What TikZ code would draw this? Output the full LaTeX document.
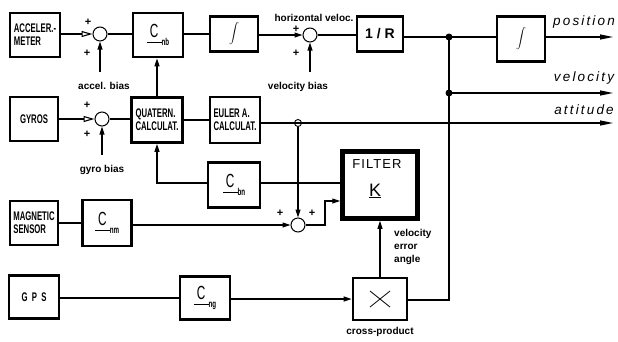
\documentclass[tikz,border=0pt]{standalone}
\usepackage{fontspec}
\setmainfont{Liberation Sans}
\newfontfamily\bxf[FakeStretch=0.62]{Liberation Sans}
\newfontfamily\itf[LetterSpace=16]{Liberation Sans}
\newfontfamily\flf[LetterSpace=8]{Liberation Sans}
\usetikzlibrary{arrows.meta}
\newcommand\cmx[1]{{\bxf\mdseries\fontsize{19}{19}\selectfont\underline{\,C\vphantom{y}\,}}\raisebox{-1.3ex}{\bxf\bfseries\fontsize{10}{10}\selectfont #1}}
\newcommand\intg{{\fontsize{8.5}{8.5}\selectfont$\displaystyle\int$}}
\begin{document}
\begin{tikzpicture}[x=1pt,y=-1pt,
  box/.style={draw,line width=2.8pt,inner sep=0pt,font=\bxf\bfseries\fontsize{12.5}{13}\selectfont,align=left},
  sj/.style={draw,circle,line width=1pt,minimum size=14pt,inner sep=0pt,fill=white},
  ln/.style={line width=1.1pt},
  ar/.style={ln,-{Triangle[length=8pt,width=5pt]}},
  oa/.style={ln,-{Triangle[open,length=11pt,width=6pt]}},
  outar/.style={ln,-{Triangle[length=13pt,width=5pt]}},
  lbl/.style={font=\bfseries\fontsize{10}{10}\selectfont,inner sep=0pt},
  pl/.style={font=\bfseries\fontsize{11}{11}\selectfont,inner sep=0pt},
  oit/.style={font=\itf\itshape\fontsize{13.5}{13.5}\selectfont,inner sep=0pt}]
\useasboundingbox[fill=white] (0,0) rectangle (618,341);
% row 1
\node[box,minimum width=50pt,minimum height=44pt] (acc) at (35,35) {ACCELER.-\\METER};
\node[sj] (s1) at (100,34) {};
\node[box,minimum width=50pt,minimum height=44pt] (cnb) at (158,35) {\cmx{nb}};
\node[box,minimum width=48pt,minimum height=35pt] (int1) at (234,34) {\intg};
\node[sj] (s2) at (310,35) {};
\node[box,minimum width=46pt,minimum height=35pt,font=\bfseries\fontsize{14}{14}\selectfont] (oner) at (380,34) {1 / R};
\coordinate (d1) at (449,37);
\node[box,minimum width=48pt,minimum height=45pt] (int2) at (521,39) {\intg};
\coordinate (po) at (613,37);
% row 2
\node[box,minimum width=48pt,minimum height=44pt] (gyr) at (34,119) {GYROS};
\node[sj] (s3) at (102,119) {};
\node[box,minimum width=51pt,minimum height=45pt] (quat) at (157,120) {QUATERN.\\CALCULAT.};
\node[box,minimum width=50pt,minimum height=46pt] (eul) at (235,120) {EULER A.\\CALCULAT.};
\coordinate (jc) at (298,123);
\coordinate (d2) at (449,93);
\coordinate (ve) at (613,93);
\coordinate (at) at (613,123);
% row 3
\node[box,minimum width=52pt,minimum height=45pt] (cbn) at (234,185) {\cmx{bn}};
\node[box,line width=4.5pt,minimum width=75pt,minimum height=67pt] (filt) at (380,185) {};
\node[inner sep=0pt,font=\flf\fontsize{13}{13}\selectfont] (ft) at (377,164) {FILTER};
\node[inner sep=0pt,font=\fontsize{18}{18}\selectfont] (fk) at (375,191) {\underline{K}};
\node[box,minimum width=48pt,minimum height=44pt] (mag) at (34,223) {MAGNETIC\\SENSOR};
\node[box,minimum width=49pt,minimum height=46pt] (cnm) at (107,223) {\cmx{nm}};
\node[sj] (s4) at (298,225) {};
\coordinate (k2) at (325,201);
% row 4
\node[box,minimum width=50pt,minimum height=43pt] (gps) at (34,297) {G\ \ P\ \ S};
\node[box,minimum width=50pt,minimum height=43pt] (cng) at (205,298) {\cmx{ng}};
\node[box,minimum width=54pt,minimum height=42pt] (crs) at (380,299) {};
\draw[line width=0.8pt] (crs.center) ++(-10,-8) -- ++(20,16);
\draw[line width=0.8pt] (crs.center) ++(-10,8) -- ++(20,-16);
\coordinate (d3) at (449,300);
% bias inputs
\coordinate (bacc) at (100,72);
\coordinate (bvel) at (310,72);
\coordinate (bgyr) at (102,155);
% connections row 1
\draw[oa] (acc.east |- s1) -- (s1.west);
\draw[ln] (s1.east) -- (cnb.west |- s1);
\draw[ln] (cnb.east |- int1) -- (int1.west);
\draw[ar] (int1.east |- s2) -- (s2.west);
\draw[ln] (s2.east) -- (oner.west |- s2);
\draw[ln] (oner.east |- d1) -- (d1) -- (d1 -| int2.west);
\draw[outar] (int2.east |- d1) -- (po);
\draw[ln] (d1) -- (d2) -- (d3) -- (crs.east |- d3);
\draw[outar] (d2) -- (ve);
\fill (d1) circle (3.5pt);
\fill (d2) circle (3.5pt);
\draw[ar] (bacc) -- (s1.south);
\draw[ar] (bvel) -- (s2.south);
% row 2
\draw[oa] (gyr.east |- s3) -- (s3.west);
\draw[ar] (bgyr) -- (s3.south);
\draw[ln] (s3.east) -- (quat.west |- s3);
\draw[ar] (quat.north) -- (quat.north |- cnb.south);
\draw[ln] (quat.east |- eul) -- (eul.west);
\draw[ln] (eul.east |- jc) -- (jc);
\draw[outar] (jc) -- (at);
\draw[ln,line width=0.9pt] (jc) circle (3.5pt);
\draw[ar] ([yshift=-3.5pt]jc) -- (s4.north);
% row 3
\draw[ln] (filt.west |- 0,183) -- (cbn.east |- 0,183);
\draw[ar] (cbn.west |- 0,183) -| (quat.south);
\draw[ln] (mag.east) -- (cnm.west);
\draw[ar] (cnm.east |- s4) -- (s4.west);
\draw[ar] (s4.east) -| (k2) -- (filt.west |- k2);
% row 4
\draw[ln] (gps.east |- cng) -- (cng.west);
\draw[ar] (cng.east |- crs) -- (crs.west);
\draw[ar] (crs.north) -- (filt.south);
% plus signs
\node[pl] (p1) at (88,22) {+};
\node[pl] (p2) at (87,53) {+};
\node[pl] (p3) at (87,105) {+};
\node[pl] (p4) at (87,134) {+};
\node[pl] (p5) at (296,29) {+};
\node[pl] (p6) at (296,53) {+};
\node[pl] (p7) at (280,213) {+};
\node[pl] (p8) at (312,213) {+};
% labels
\node[lbl] (la) at (104,86) {accel. bias};
\node[lbl] (lh) at (314,18) {horizontal veloc.};
\node[lbl] (lv) at (298,87) {velocity bias};
\node[lbl] (lg) at (102,170) {gyro bias};
\node[lbl,align=left,anchor=north west] (le) at (394,229) {velocity\\[3pt]error\\[3pt]angle};
\node[lbl] (lc) at (380,332) {cross-product};
\node[oit] (tp) at (584,22) {position};
\node[oit] (tv) at (584,78) {velocity};
\node[oit] (tt) at (584,110) {attitude};
\end{tikzpicture}
\end{document}
